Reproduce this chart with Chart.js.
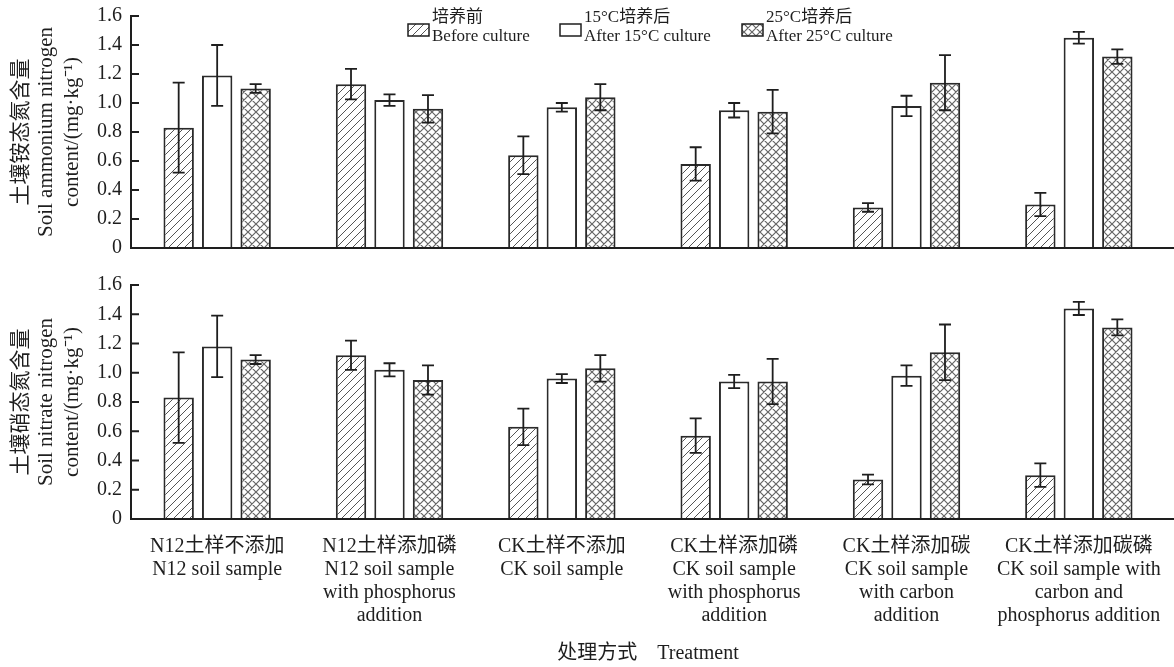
<!DOCTYPE html>
<html>
<head>
<meta charset="utf-8">
<script src="https://cdn.jsdelivr.net/npm/chart.js@4.4.0/dist/chart.umd.min.js"></script>
<style>
  html, body { margin: 0; padding: 0; background: #fff; }
  #wrap { position: relative; width: 1174px; height: 667px; }
  #top { position: absolute; left: 0; top: 0; width: 1174px; height: 262px; }
  #bottom { position: absolute; left: 0; top: 268px; width: 1174px; height: 399px; }
</style>
</head>
<body>
<div id="wrap">
  <div id="top"><canvas id="ammoniumChart"></canvas></div>
  <div id="bottom"><canvas id="nitrateChart"></canvas></div>
</div>
<script>
// Treatments (x categories), one line per array entry
const treatments = [
    ['N12土样不添加', 'N12 soil sample'],
    ['N12土样添加磷', 'N12 soil sample', 'with phosphorus', 'addition'],
    ['CK土样不添加', 'CK soil sample'],
    ['CK土样添加磷', 'CK soil sample', 'with phosphorus', 'addition'],
    ['CK土样添加碳', 'CK soil sample', 'with carbon', 'addition'],
    ['CK土样添加碳磷', 'CK soil sample with', 'carbon and', 'phosphorus addition']
];

// Series names
const seriesCn = ['培养前', '15°C培养后', '25°C培养后'];
const seriesEn = ['Before culture', 'After 15°C culture', 'After 25°C culture'];

// Soil ammonium nitrogen (top panel)
const ammoniumBefore = [0.83, 1.13, 0.64, 0.58, 0.28, 0.30];
const ammonium15 = [1.19, 1.02, 0.97, 0.95, 0.98, 1.45];
const ammonium25 = [1.10, 0.96, 1.04, 0.94, 1.14, 1.32];
const ammoniumBeforeErr = [0.31, 0.105, 0.13, 0.115, 0.03, 0.08];
const ammonium15Err = [0.21, 0.04, 0.03, 0.05, 0.07, 0.04];
const ammonium25Err = [0.03, 0.095, 0.09, 0.15, 0.19, 0.05];

// Soil nitrate nitrogen (bottom panel)
const nitrateBefore = [0.83, 1.12, 0.63, 0.57, 0.27, 0.30];
const nitrate15 = [1.18, 1.02, 0.96, 0.94, 0.98, 1.44];
const nitrate25 = [1.09, 0.95, 1.03, 0.94, 1.14, 1.31];
const nitrateBeforeErr = [0.31, 0.10, 0.125, 0.118, 0.033, 0.08];
const nitrate15Err = [0.21, 0.045, 0.03, 0.045, 0.07, 0.045];
const nitrate25Err = [0.03, 0.10, 0.09, 0.155, 0.19, 0.055];

// Axis text
const yTickLabels = ['0', '0.2', '0.4', '0.6', '0.8', '1.0', '1.2', '1.4', '1.6'];
const ammoniumTitle = ['土壤铵态氮含量', 'Soil ammonium nitrogen', 'content/(mg·kg⁻¹)'];
const nitrateTitle = ['土壤硝态氮含量', 'Soil nitrate nitrogen', 'content/(mg·kg⁻¹)'];
const xTitle = '处理方式    Treatment';

const FONT = "'Liberation Serif', 'Times New Roman', 'Noto Sans CJK SC', serif";
const INK = '#1e1e1e';

// Fill patterns for the bars
function makePattern(kind) {
    const c = document.createElement('canvas');
    c.width = 8;
    c.height = 8;
    const g = c.getContext('2d');
    g.fillStyle = '#fff';
    g.fillRect(0, 0, 8, 8);
    if (kind === 'hatch' || kind === 'cross') {
        g.strokeStyle = kind === 'hatch' ? '#555' : '#666';
        g.lineWidth = kind === 'hatch' ? 1 : 1.2;
        g.beginPath();
        g.moveTo(0, 8); g.lineTo(8, 0);
        g.moveTo(-2, 2); g.lineTo(2, -2);
        g.moveTo(6, 10); g.lineTo(10, 6);
        if (kind === 'cross') {
            g.moveTo(0, 0); g.lineTo(8, 8);
            g.moveTo(-2, 6); g.lineTo(2, 10);
            g.moveTo(6, -2); g.lineTo(10, 2);
        }
        g.stroke();
    }
    return g.createPattern(c, 'repeat');
}
const fills = [makePattern('hatch'), makePattern('plain'), makePattern('cross')];

// Error bars, inward y ticks and the long x axis line
const framePlugin = {
    id: 'frame',
    afterDatasetsDraw(chart) {
        const ctx = chart.ctx;
        const y = chart.scales.y;
        ctx.save();
        ctx.strokeStyle = INK;
        ctx.lineWidth = 1.8;
        chart.data.datasets.forEach((ds, i) => {
            const meta = chart.getDatasetMeta(i);
            meta.data.forEach((bar, j) => {
                const v = ds.data[j];
                const e = ds.errors[j];
                const yTop = y.getPixelForValue(v + e);
                const yBot = y.getPixelForValue(v - e);
                ctx.beginPath();
                ctx.moveTo(bar.x, yTop); ctx.lineTo(bar.x, yBot);
                ctx.moveTo(bar.x - 6, yTop); ctx.lineTo(bar.x + 6, yTop);
                ctx.moveTo(bar.x - 6, yBot); ctx.lineTo(bar.x + 6, yBot);
                ctx.stroke();
            });
        });
        ctx.restore();
    },
    afterDraw(chart) {
        const ctx = chart.ctx;
        const y = chart.scales.y;
        const area = chart.chartArea;
        ctx.save();
        ctx.strokeStyle = INK;
        ctx.lineWidth = 2;
        ctx.beginPath();
        y.ticks.forEach(t => {
            const py = y.getPixelForValue(t.value);
            ctx.moveTo(area.left, py);
            ctx.lineTo(area.left + 8, py);
        });
        ctx.moveTo(area.left - 1, area.bottom);
        ctx.lineTo(chart.width, area.bottom);
        ctx.stroke();
        ctx.restore();
    }
};

// Two-line legend on the top panel
const legendPlugin = {
    id: 'twoLineLegend',
    afterDraw(chart) {
        const ctx = chart.ctx;
        const boxX = [408, 560, 742];
        ctx.save();
        ctx.font = '17px ' + FONT;
        ctx.textBaseline = 'middle';
        ctx.textAlign = 'left';
        seriesCn.forEach((name, i) => {
            ctx.fillStyle = fills[i];
            ctx.fillRect(boxX[i], 24, 21, 12);
            ctx.strokeStyle = INK;
            ctx.lineWidth = 1.5;
            ctx.strokeRect(boxX[i], 24, 21, 12);
            ctx.fillStyle = INK;
            ctx.fillText(name, boxX[i] + 24, 18);
            ctx.fillText(seriesEn[i], boxX[i] + 24, 37);
        });
        ctx.restore();
    }
};

function makeChart(canvasId, series, errors, yTitle, showX) {
    const ctx = document.getElementById(canvasId).getContext('2d');
    return new Chart(ctx, {
        type: 'bar',
        data: {
            labels: treatments,
            datasets: series.map((values, i) => ({
                label: seriesEn[i],
                data: values,
                errors: errors[i],
                backgroundColor: fills[i],
                borderColor: '#2a2a2a',
                borderWidth: 2,
                categoryPercentage: 0.67,
                barPercentage: 0.79
            }))
        },
        options: {
            responsive: true,
            maintainAspectRatio: false,
            animation: false,
            layout: {
                padding: { top: showX ? 17 : 16, bottom: showX ? 0 : 14, left: 0, right: 9 }
            },
            plugins: {
                legend: { display: false },
                tooltip: { enabled: false }
            },
            scales: {
                x: {
                    offset: true,
                    grid: { display: false, drawTicks: false },
                    border: { display: false },
                    ticks: {
                        display: showX,
                        autoSkip: false,
                        maxRotation: 0,
                        padding: 16,
                        color: INK,
                        font: { family: FONT, size: 20, lineHeight: 1.15 }
                    },
                    title: {
                        display: showX,
                        text: xTitle,
                        color: INK,
                        font: { family: FONT, size: 20 },
                        padding: { top: 0, bottom: 1 }
                    },
                    afterFit(scale) {
                        scale.paddingLeft = 0;
                        scale.paddingRight = 0;
                        scale.height = showX ? 148 : 0;
                    }
                },
                y: {
                    min: 0,
                    max: 1.6,
                    grid: { display: false, drawTicks: false },
                    border: { display: true, color: INK, width: 2 },
                    ticks: {
                        stepSize: 0.2,
                        padding: 9,
                        color: INK,
                        font: { family: FONT, size: 20 },
                        callback: (v, i) => yTickLabels[i]
                    },
                    title: {
                        display: true,
                        text: yTitle,
                        color: INK,
                        font: { family: FONT, size: 21, lineHeight: 1.2 },
                        padding: { top: 9, bottom: 0 }
                    },
                    afterFit(scale) {
                        scale.width = 131;
                        scale.paddingTop = 0;
                        scale.paddingBottom = 0;
                    }
                }
            }
        },
        plugins: showX ? [framePlugin] : [framePlugin, legendPlugin]
    });
}

const ammoniumChart = makeChart('ammoniumChart',
    [ammoniumBefore, ammonium15, ammonium25],
    [ammoniumBeforeErr, ammonium15Err, ammonium25Err],
    ammoniumTitle, false);

const nitrateChart = makeChart('nitrateChart',
    [nitrateBefore, nitrate15, nitrate25],
    [nitrateBeforeErr, nitrate15Err, nitrate25Err],
    nitrateTitle, true);
</script>
</body>
</html>
